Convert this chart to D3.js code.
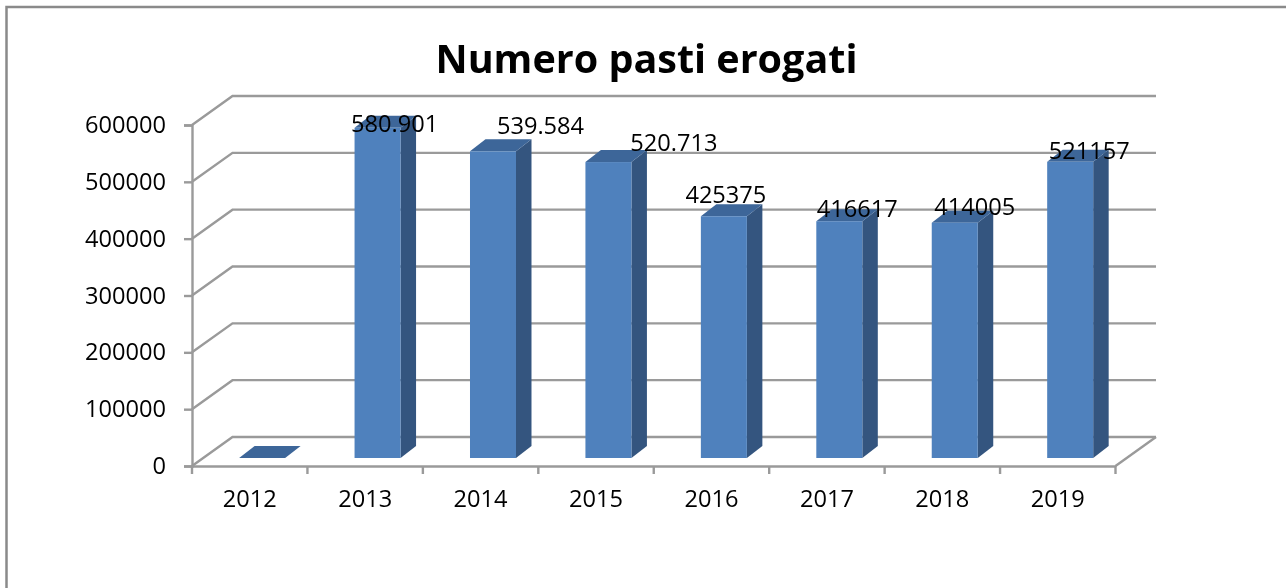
<!DOCTYPE html>
<html>
<head>
<meta charset="utf-8">
<script src="https://cdn.jsdelivr.net/npm/d3@7"></script>
<style>
  html, body { margin: 0; padding: 0; background: #fff; }
  /* the reference is a soft, upscaled screenshot */
  svg { display: block; filter: blur(0.35px); }
  text { font-family: "Open Sans", sans-serif; fill: #000; }
</style>
</head>
<body>
<div class="chart-container"></div>
<script>
// Values
const years = ["2012", "2013", "2014", "2015", "2016", "2017", "2018", "2019"]
const meals = [0, 580901, 539584, 520713, 425375, 416617, 414005, 521157]
// The labels are written differently in the original (some with a dot, some without)
const labels = ["", "580.901", "539.584", "520.713", "425375", "416617", "414005", "521157"]
const yTicks = [0, 100000, 200000, 300000, 400000, 500000, 600000]
// Labels were moved by hand in the original, so they have to be nudged from the bar top
const labelNudgeX = [0, 17, 47.5, 65.5, 2, 18, 20, 19]
const labelNudgeY = [0, 4, -17, -11, -13, -4, -8, -3]

const width = 1286, height = 588
const margin = {top: 125, right: 170.5, bottom: 122, left: 192}

// How far the back wall is shifted from the front plane
const wallX = 40.5, wallY = -29
// Where the bars stand on the floor and how deep they are
const barShiftX = 12.4, barShiftY = -8, depthX = 15.5, depthY = -12
const barWidth = 46

const gridColor = "#9a9a9a"
const gridWidth = 2.4
const labelSize = 23.6

const svg = d3.select(".chart-container").append("svg")
  .attr("width", width)
  .attr("height", height)

// Outer border, only top and left are in the picture
svg.append("path")
  .attr("d", `M6.5,${height} V7 H${width}`)
  .attr("fill", "none")
  .attr("stroke", "#8a8a8a")
  .attr("stroke-width", 2.5)

const x = d3.scaleBand()
  .domain(years)
  .range([margin.left, width - margin.right])

const y = d3.scaleLinear()
  .domain([0, 600000])
  .range([height - margin.bottom, margin.top])

const x0 = x.range()[0], x1 = x.range()[1]

// Back wall gridlines with the diagonal going to the front
svg.append("g").selectAll("path")
  .data(yTicks)
  .join("path")
  .attr("d", d => `M${x0},${y(d)} L${x0 + wallX},${y(d) + wallY} H${x1 + wallX}`)
  .attr("fill", "none")
  .attr("stroke", gridColor)
  .attr("stroke-width", gridWidth)

// Right side of the floor
svg.append("path")
  .attr("d", `M${x1},${y(0)} L${x1 + wallX},${y(0) + wallY}`)
  .attr("stroke", gridColor)
  .attr("stroke-width", gridWidth)

// Y axis
svg.append("g")
  .attr("transform", `translate(${x0},0)`)
  .call(d3.axisLeft(y).tickValues(yTicks).tickFormat(d3.format("d")).tickSize(8).tickPadding(18))
  .call(g => g.selectAll("path, line").attr("stroke", gridColor).attr("stroke-width", gridWidth))
  .call(g => g.selectAll("text").attr("font-size", labelSize).attr("font-family", null))

// X axis, the ticks sit between the categories so they are drawn apart from the labels
svg.append("g")
  .attr("transform", `translate(0,${y(0)})`)
  .call(d3.axisBottom(x).tickSize(0).tickPadding(24))
  .call(g => g.selectAll("path").attr("stroke", gridColor).attr("stroke-width", gridWidth))
  .call(g => g.selectAll("text").attr("font-size", labelSize).attr("font-family", null))

svg.append("g").selectAll("line")
  .data(years.concat("end"))
  .join("line")
  .attr("x1", (d, i) => x0 + i * x.step())
  .attr("x2", (d, i) => x0 + i * x.step())
  .attr("y1", y(0))
  .attr("y2", y(0) + 8)
  .attr("stroke", gridColor)
  .attr("stroke-width", gridWidth)

// Bars: front, side and top faces
const bars = svg.append("g").selectAll("g")
  .data(years)
  .join("g")

const barLeft = d => x(d) + x.bandwidth() / 2 + barShiftX - barWidth / 2
const barTop = (d, i) => y(meals[i]) + barShiftY
const barBase = y(0) + barShiftY

bars.append("path")
  .attr("fill", "#34557f")
  .attr("d", (d, i) => {
    const r = barLeft(d) + barWidth
    return `M${r},${barBase} V${barTop(d, i)} l${depthX},${depthY} V${barBase + depthY} Z`
  })

bars.append("path")
  .attr("fill", "#3d6699")
  .attr("d", (d, i) => {
    const t = barTop(d, i)
    return `M${barLeft(d)},${t} h${barWidth} l${depthX},${depthY} h${-barWidth} Z`
  })

bars.append("rect")
  .attr("fill", "#4f81bd")
  .attr("x", barLeft)
  .attr("y", barTop)
  .attr("width", barWidth)
  .attr("height", (d, i) => barBase - barTop(d, i))

// Data labels
svg.append("g").selectAll("text")
  .data(years)
  .join("text")
  .attr("x", (d, i) => barLeft(d) + barWidth / 2 + labelNudgeX[i])
  .attr("y", (d, i) => barTop(d, i) + labelNudgeY[i])
  .attr("text-anchor", "middle")
  .attr("font-size", labelSize)
  .text((d, i) => labels[i])

// Title
svg.append("text")
  .attr("x", 646.5)
  .attr("y", 73)
  .attr("text-anchor", "middle")
  .attr("font-size", 39.5)
  .attr("font-weight", 700)
  .text("Numero pasti erogati")
</script>
</body>
</html>
